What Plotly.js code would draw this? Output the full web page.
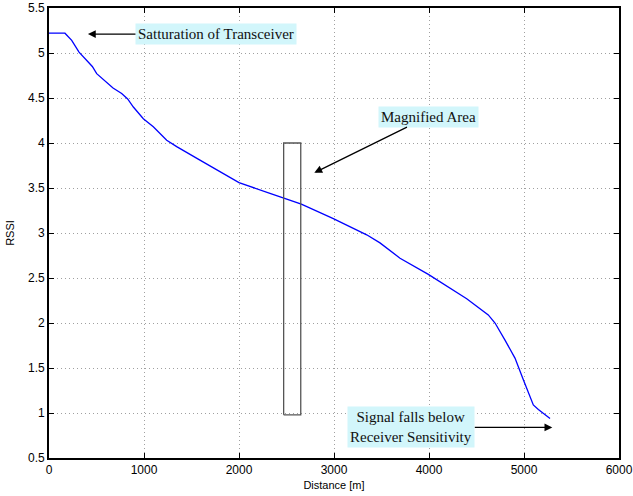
<!DOCTYPE html>
<html>
<head>
<meta charset="utf-8">
<script src="https://cdn.plot.ly/plotly-3.0.1.min.js"></script>
<style>html,body{margin:0;padding:0;background:#fff;}#chart{width:633px;height:496px;}</style>
</head>
<body>
<div id="chart"></div>
<script>
const distance = [0, 100, 168, 239, 316, 456, 502, 674, 765, 828, 888, 993, 1098, 1239, 1344, 1589, 2000, 2326, 2467, 2656, 2993, 3344, 3484, 3695, 3993, 4256, 4397, 4624, 4695, 4800, 4905, 4993, 5098, 5151, 5274];
const rssi = [5.22, 5.22, 5.22, 5.14, 5.01, 4.85, 4.77, 4.61, 4.55, 4.49, 4.40, 4.27, 4.18, 4.03, 3.96, 3.81, 3.56, 3.44, 3.39, 3.32, 3.16, 2.98, 2.89, 2.72, 2.54, 2.37, 2.27, 2.09, 2.00, 1.81, 1.61, 1.37, 1.09, 1.04, 0.94];
const boxX = [2470, 2650, 2650, 2470, 2470];
const boxY = [0.98, 0.98, 4.0, 4.0, 0.98];
const notes = ["Satturation of Transceiver", "Magnified Area", "Signal falls below<br>Receiver Sensitivity"];
const noteX = [410, 2793, 5298];
const noteY = [5.21, 3.67, 0.84];
const xTicks = [0, 1000, 2000, 3000, 4000, 5000, 6000];
const yTicks = [0.5, 1, 1.5, 2, 2.5, 3, 3.5, 4, 4.5, 5, 5.5];

const offsets = [[128, 0], [114, -56], [-141, 0]];

const traces = [
  {x: distance, y: rssi, mode: 'lines', line: {color: '#0000ff', width: 1.3}, hoverinfo: 'skip'},
  {x: boxX, y: boxY, mode: 'lines', line: {color: '#555555', width: 1.3}, hoverinfo: 'skip'}
];

const annotations = notes.map((t, i) => ({
  x: noteX[i], y: noteY[i], xref: 'x', yref: 'y',
  text: t, showarrow: true, ax: offsets[i][0], ay: offsets[i][1],
  arrowhead: 2, arrowsize: 1.2, arrowwidth: 1.3, arrowcolor: '#000',
  bgcolor: '#d2f6fb', borderpad: 2,
  font: {family: 'Liberation Serif, Times New Roman, serif', size: 15, color: '#111'}
}));

const axisCommon = {
  showline: true, linecolor: '#000', linewidth: 1.8, mirror: 'ticks',
  ticks: 'inside', ticklen: 5, tickcolor: '#000', tickwidth: 1,
  showgrid: true, gridcolor: '#a0a0a0', griddash: '1px,3px', gridwidth: 1,
  zeroline: false,
  tickfont: {family: 'Liberation Sans, Arial, sans-serif', size: 12, color: '#000'}
};

const layout = {
  width: 633, height: 496,
  margin: {l: 49, r: 14, t: 8, b: 38},
  paper_bgcolor: '#fff', plot_bgcolor: '#fff',
  showlegend: false,
  xaxis: Object.assign({}, axisCommon, {
    range: [0, 6000], tickvals: xTicks, ticktext: xTicks.map(String),
    title: {text: 'Distance [m]', standoff: 5, font: {family: 'Liberation Sans, Arial, sans-serif', size: 11, color: '#000'}}
  }),
  yaxis: Object.assign({}, axisCommon, {
    range: [0.5, 5.5], tickvals: yTicks, ticktext: yTicks.map(String),
    title: {text: 'RSSI', standoff: 11, font: {family: 'Liberation Sans, Arial, sans-serif', size: 11, color: '#000'}}
  }),
  annotations: annotations
};

Plotly.newPlot('chart', traces, layout, {displayModeBar: false, staticPlot: true});
</script>
</body>
</html>
